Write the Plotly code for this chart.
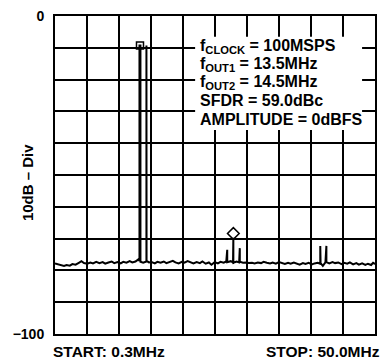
import plotly.graph_objects as go

# spectrum trace (MHz, dBFS); spikes are included in order
freq_mhz = [0.3, 0.8, 1.3, 1.7, 2.1, 2.6, 3.0, 3.5, 4.0, 4.4, 4.8, 5.3, 5.8, 6.2, 6.7,
            7.2, 7.7, 8.1, 8.6, 9.1, 9.5, 10.0, 10.5, 10.9, 11.4, 11.9, 12.3, 12.8,
            13.2, 13.42, 13.42, 13.57, 13.57, 14.0, 14.5, 14.5, 14.52, 14.9, 15.3, 15.8,
            16.2, 16.7, 17.2, 17.6, 18.1, 18.6, 19.0, 19.5, 20.0, 20.4, 20.9, 21.4,
            21.8, 22.3, 22.8, 23.2, 23.7, 24.2, 24.6, 25.1, 25.6, 26.0, 26.5, 26.9,
            27.05, 27.05, 27.6, 27.95, 28.0, 28.0, 28.5, 28.9, 29.0, 29.0, 29.5, 30.0,
            30.4, 30.9, 31.3, 31.8, 32.3, 32.7, 33.2, 33.7, 34.1, 34.6, 35.1, 35.5,
            36.0, 36.5, 36.9, 37.4, 37.9, 38.3, 38.8, 39.2, 39.7, 40.2, 40.6, 41.1,
            41.5, 41.5, 41.55, 41.9, 42.1, 42.3, 42.45, 42.45, 42.9, 43.4, 43.8, 44.3,
            44.8, 45.2, 45.7, 46.1, 46.6, 47.1, 47.5, 48.0, 48.5, 48.9, 49.4, 49.7, 50.0]
level_db = [-77.8, -78.1, -78.4, -78.6, -78.3, -78.5, -78.0, -78.2, -77.6, -77.1, -77.7,
            -77.9, -77.5, -77.8, -77.3, -77.7, -77.4, -77.9, -77.5, -77.2, -77.7, -77.4,
            -77.8, -77.3, -77.6, -77.1, -77.5, -77.2, -76.6, -77.0, -9.3, -9.3, -77.3,
            -77.6, -77.2, -9.3, -77.0, -77.5, -77.4, -77.8, -77.3, -77.6, -77.2, -77.7,
            -77.4, -77.0, -77.5, -77.8, -77.3, -77.6, -77.1, -77.5, -77.8, -77.4, -77.7,
            -77.2, -77.9, -77.5, -78.2, -77.4, -77.8, -77.3, -77.6, -77.2, -73.5, -77.4,
            -77.1, -77.5, -69.7, -77.6, -77.2, -77.5, -73.0, -77.3, -77.6, -77.5, -77.7,
            -77.6, -77.8, -77.5, -77.7, -77.3, -77.6, -77.8, -77.5, -77.9, -77.4, -77.7,
            -78.0, -77.6, -77.9, -77.5, -77.8, -78.2, -77.7, -78.0, -77.6, -78.1, -77.8,
            -77.6, -77.9, -72.3, -77.7, -78.6, -77.8, -77.5, -72.3, -77.4, -77.8, -77.4,
            -77.7, -77.5, -78.0, -77.6, -77.9, -77.5, -78.1, -77.7, -78.2, -77.8, -78.3,
            -77.9, -78.3, -77.6, -78.0]

# markers: fundamental (square) and worst spur (diamond)
fund_marker = ([13.5], [-9.25])
spur_marker = ([28.0], [-68.4])

info_lines = ["f<sub>CLOCK</sub> = 100MSPS", "f<sub>OUT1</sub> = 13.5MHz",
              "f<sub>OUT2</sub> = 14.5MHz", "SFDR = 59.0dBc", "AMPLITUDE = 0dBFS"]
info_y_px = [43.6, 61.5, 79.8, 98.8, 117.3]

y_ticks = [-100, -90, -80, -70, -60, -50, -40, -30, -20, -10, 0]
y_text = ["<b>−100</b>", "", "", "", "", "", "", "", "", "", "<b>0</b>"]

font_b = "Liberation Sans"
PLOT_TOP, PLOT_BOTTOM = 13, 334


def py_to_paper(py):
    return (PLOT_BOTTOM - py) / (PLOT_BOTTOM - PLOT_TOP)


fig = go.Figure()
fig.add_trace(go.Scatter(x=freq_mhz, y=level_db, mode="lines",
                         line=dict(color="black", width=2), hoverinfo="skip"))
fig.add_trace(go.Scatter(x=fund_marker[0], y=fund_marker[1], mode="markers",
                         marker=dict(symbol="square-open", size=7, color="black",
                                     line=dict(width=1.5, color="black"))))
fig.add_trace(go.Scatter(x=spur_marker[0], y=spur_marker[1], mode="markers",
                         marker=dict(symbol="diamond-open", size=9, color="black",
                                     line=dict(width=1.5, color="black"))))

# white box behind the settings text
fig.add_shape(type="rect", xref="paper", yref="paper", x0=(196 - 55) / 322, x1=(364 - 55) / 322,
              y0=py_to_paper(128), y1=py_to_paper(34), fillcolor="white", line_width=0, layer="above")

for txt, ypx in zip(info_lines, info_y_px):
    fig.add_annotation(text="<b>" + txt + "</b>", xref="paper", yref="paper",
                       x=(199 - 55) / 322, y=py_to_paper(ypx), xanchor="left", yanchor="middle",
                       align="left", showarrow=False,
                       font=dict(family=font_b, size=16, color="black"))

fig.add_annotation(text="<b>10dB – Div</b>", textangle=-90, xref="paper", yref="paper",
                   x=(27.5 - 55) / 322, y=py_to_paper(181), xanchor="center", yanchor="middle",
                   showarrow=False, font=dict(family=font_b, size=15, color="black"))
fig.add_annotation(text="<b>START: 0.3MHz</b>", xref="paper", yref="paper",
                   x=(51 - 55) / 322, y=py_to_paper(351.5), xanchor="left", yanchor="middle",
                   showarrow=False, font=dict(family=font_b, size=15.5, color="black"))
fig.add_annotation(text="<b>STOP: 50.0MHz</b>", xref="paper", yref="paper",
                   x=(384 - 55) / 322, y=py_to_paper(351.5), xanchor="right", yanchor="middle",
                   showarrow=False, font=dict(family=font_b, size=15.5, color="black"))

fig.update_xaxes(range=[0.3, 50.0], tick0=0.3, dtick=4.97, showticklabels=False,
                 showgrid=True, gridcolor="black", gridwidth=1.5, zeroline=False,
                 showline=True, linecolor="black", linewidth=2, mirror=True, ticks="")
fig.update_yaxes(range=[-100, 0], tickvals=y_ticks, ticktext=y_text,
                 showgrid=True, gridcolor="black", gridwidth=1.5, zeroline=False,
                 showline=True, linecolor="black", linewidth=2, mirror=True, ticks="",
                 tickfont=dict(family=font_b, size=14, color="black"), ticklabelstandoff=6)

fig.update_layout(width=385, height=360, showlegend=False,
                  paper_bgcolor="white", plot_bgcolor="white",
                  margin=dict(l=55, r=8, t=13, b=26),
                  font=dict(family=font_b, color="black"))

fig.write_html("out.html", config={"displayModeBar": False},
               post_script="document.body.style.margin='0';")
